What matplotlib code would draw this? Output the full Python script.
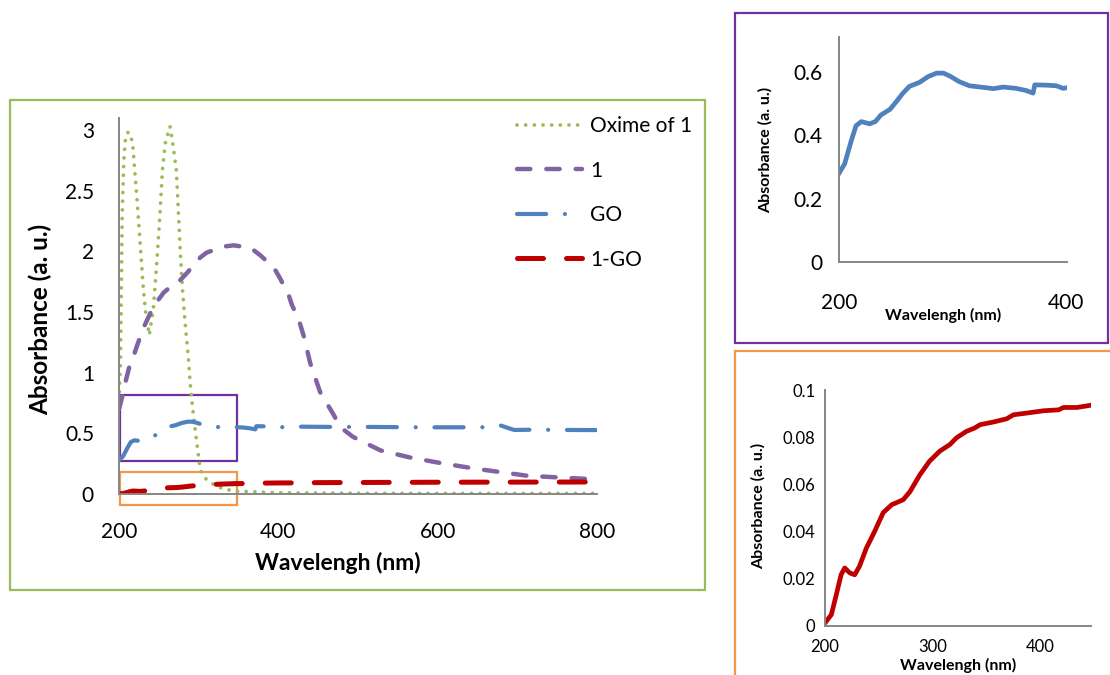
import numpy as np
import matplotlib.pyplot as plt
from matplotlib.patches import Rectangle

plt.rcParams['font.family'] = ['Lato', 'DejaVu Sans']

# ---- data ----
# Oxime of 1 (green dotted)
oxime_x = [200, 201, 202, 204, 206, 208, 211, 213, 217, 222, 226, 230, 233, 238,
           243, 247, 251, 254.5, 258, 264, 267.5, 272, 274.6, 277, 280, 283.4, 287,
           289, 292.7, 297.7, 302, 308, 323, 343, 400, 500, 600, 700, 800]
oxime_y = [0.70, 0.95, 1.15, 2.30, 2.75, 2.92, 2.98, 2.98, 2.90, 2.48, 2.12, 1.74, 1.52, 1.31,
           1.52, 1.87, 2.26, 2.67, 2.89, 3.03, 2.89, 2.67, 2.32, 1.99, 1.66, 1.38, 1.13,
           0.94, 0.69, 0.42, 0.20, 0.13, 0.06, 0.025, 0.01, 0.006, 0.005, 0.005, 0.005]

# 1 (purple dashed)
one_x = [200, 204, 208, 213, 218, 222, 230, 240, 247, 256, 265, 275, 285, 302, 310, 331, 344,
         365, 377, 394, 402, 413, 417, 426, 432, 440, 453, 468, 478, 494, 528, 566, 604,
         646, 713, 800]
one_y = [0.70, 0.80, 0.92, 1.05, 1.13, 1.21, 1.36, 1.50, 1.58, 1.66, 1.71, 1.75, 1.82, 1.95,
         1.99, 2.04, 2.05, 2.03, 1.97, 1.87, 1.78, 1.64, 1.56, 1.43, 1.30, 1.08, 0.83,
         0.67, 0.55, 0.47, 0.36, 0.30, 0.255, 0.21, 0.15, 0.12]

# GO (blue dash-dot)
go_x = [200, 205, 211, 215, 219.6, 227, 232, 237, 245, 250.5, 256.4, 262, 271, 278.5, 286,
        292, 297.6, 306, 315, 327, 336, 344.6, 356, 365, 371, 372.5, 383, 391.5, 397.5, 403,
        430, 470, 515, 555, 600, 650, 672, 679, 688, 696, 720, 760, 800]
go_y = [0.28, 0.31, 0.385, 0.43, 0.443, 0.436, 0.443, 0.464, 0.482, 0.506, 0.533, 0.554,
        0.567, 0.585, 0.596, 0.596, 0.587, 0.569, 0.556, 0.551, 0.547, 0.552, 0.548, 0.541,
        0.533, 0.559, 0.558, 0.556, 0.548, 0.551, 0.555, 0.553, 0.553, 0.551, 0.550, 0.550,
        0.552, 0.565, 0.545, 0.528, 0.530, 0.528, 0.527]

# 1-GO (red long dash)
gor_x = [200, 205.9, 210.5, 215, 218.3, 223, 227.6, 232, 238.4, 246, 254, 262, 272.6, 279,
         288, 297, 306.6, 316, 322, 331.4, 339, 344, 356, 368.7, 375, 387, 403, 417, 421.5,
         434, 449, 500, 600, 700, 800]
gor_y = [0.0013, 0.0048, 0.0133, 0.0218, 0.0246, 0.0225, 0.0217, 0.0253, 0.033, 0.040,
         0.048, 0.0514, 0.0535, 0.057, 0.064, 0.0698, 0.0741, 0.0769, 0.0797, 0.0825,
         0.0839, 0.0853, 0.0864, 0.0878, 0.0895, 0.0902, 0.0912, 0.0916, 0.0926, 0.0926,
         0.0937, 0.095, 0.097, 0.098, 0.099]

labels = ["Oxime of 1", "1", "GO", "1-GO"]
main_xticks = [200, 400, 600, 800]
main_yticks = [0, 0.5, 1, 1.5, 2, 2.5, 3]
main_yticklabels = ["0", "0.5", "1", "1.5", "2", "2.5", "3"]

GREEN = "#9BBB59"
PURPLE = "#8064A2"
BLUE = "#4F81BD"
RED = "#C00000"
SPINE = "#868686"

W, H = 1110, 675
fig = plt.figure(figsize=(W / 100, H / 100), dpi=100)


def fbox(x0, y0, x1, y1):
    # pixel box (top-left origin) -> figure fraction [l, b, w, h]
    return [x0 / W, 1 - y1 / H, (x1 - x0) / W, (y1 - y0) / H]


def frame(x0, y0, x1, y1, color, lw=1.6):
    l, b, w, h = fbox(x0, y0, x1, y1)
    fig.patches.append(Rectangle((l, b), w, h, transform=fig.transFigure,
                                 fill=False, edgecolor=color, linewidth=lw))


def style(ax):
    for s in ["top", "right"]:
        ax.spines[s].set_visible(False)
    for s in ["left", "bottom"]:
        ax.spines[s].set_color(SPINE)
        ax.spines[s].set_linewidth(1.4)
    ax.tick_params(length=0)


# outer frames
frame(10, 100, 705, 590, GREEN)
frame(735, 13, 1108, 343, "#7030A0")
frame(735, 351, 1115, 690, "#F79646")

# ---- main chart ----
ax = fig.add_axes(fbox(119, 118, 597, 494))
style(ax)
lo, = ax.plot(oxime_x, oxime_y, color=GREEN, lw=2.7, dashes=(0.01, 2.3),
              dash_capstyle="round")
l1, = ax.plot(one_x, one_y, color=PURPLE, lw=3.2, dashes=(3.0, 3.6),
              dash_capstyle="round")
lg, = ax.plot(go_x, go_y, color=BLUE, lw=3.0, dashes=(7, 4.5, 0.01, 4.5),
              dash_capstyle="round")
lr, = ax.plot(gor_x, gor_y, color=RED, lw=3.6, dashes=(5.2, 4.6),
              dash_capstyle="round")
ax.set_xlim(200, 800)
ax.set_ylim(0, 3.1)
ax.set_xticks(main_xticks)
ax.set_yticks(main_yticks)
ax.set_yticklabels(main_yticklabels)
ax.tick_params(axis="x", labelsize=15, pad=20)
ax.tick_params(axis="y", labelsize=15, pad=18)

# zoom boxes drawn in data space
ax.add_patch(Rectangle((201, 0.272), 147, 0.544, fill=False, edgecolor="#7030A0",
                       lw=1.6, clip_on=False))
ax.add_patch(Rectangle((201, -0.09), 147, 0.27, fill=False, edgecolor="#F79646",
                       lw=1.6, clip_on=False))

fig.text(338 / W, 1 - 563 / H, "Wavelengh (nm)", fontsize=16.5, fontweight="bold",
         ha="center", va="center")
fig.text(40 / W, 1 - 319 / H, "Absorbance (a. u.)", fontsize=17.5, fontweight="bold",
         ha="center", va="center", rotation=90)

fig.legend([lo, l1, lg, lr], labels, loc="upper left",
           bbox_to_anchor=(517 / W, 1 - 116 / H), frameon=False, fontsize=15,
           handlelength=3.1, handletextpad=0.4, labelspacing=1.18,
           borderpad=0, borderaxespad=0)

# ---- GO inset ----
ax2 = fig.add_axes(fbox(839, 37, 1067, 262))
style(ax2)
ax2.plot(go_x, go_y, color=BLUE, lw=3.4)
ax2.set_xlim(200, 400.9)
ax2.set_ylim(0, 0.71)
ax2.set_xticks([200, 400])
ax2.set_yticks([0, 0.2, 0.4, 0.6])
ax2.set_yticklabels(["0", "0.2", "0.4", "0.6"])
ax2.tick_params(axis="x", labelsize=15, pad=22)
ax2.tick_params(axis="y", labelsize=15, pad=12)
fig.text(943 / W, 1 - 315 / H, "Wavelengh (nm)", fontsize=11.5, fontweight="bold",
         ha="center", va="center")
fig.text(765 / W, 1 - 150 / H, "Absorbance (a. u.)", fontsize=11.5, fontweight="bold",
         ha="center", va="center", rotation=90)

# ---- 1-GO inset ----
ax3 = fig.add_axes(fbox(825, 390, 1091, 626))
style(ax3)
ax3.plot(gor_x, gor_y, color=RED, lw=3.4)
ax3.set_xlim(200, 447)
ax3.set_ylim(0, 0.1)
ax3.set_xticks([200, 300, 400])
ax3.set_yticks([0, 0.02, 0.04, 0.06, 0.08, 0.1])
ax3.set_yticklabels(["0", "0.02", "0.04", "0.06", "0.08", "0.1"])
ax3.tick_params(axis="x", labelsize=12, pad=9)
ax3.tick_params(axis="y", labelsize=12, pad=7)
fig.text(958 / W, 1 - 665 / H, "Wavelengh (nm)", fontsize=11.5, fontweight="bold",
         ha="center", va="center")
fig.text(758 / W, 1 - 506 / H, "Absorbance (a. u.)", fontsize=11.5, fontweight="bold",
         ha="center", va="center", rotation=90)

fig.savefig("out.png", dpi=100)
